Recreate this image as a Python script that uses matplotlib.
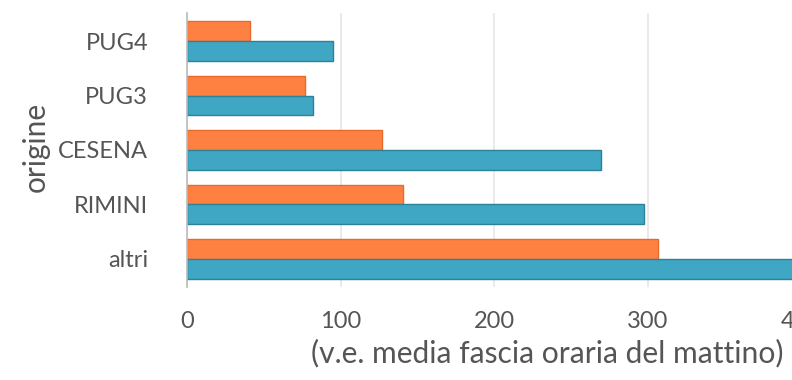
import matplotlib
matplotlib.use("Agg")
import matplotlib.pyplot as plt
import numpy as np

# Morning time-slot average vehicle counts by origin
categories = ["altri", "RIMINI", "CESENA", "PUG3", "PUG4"]
serie_arancio = [307, 141, 127, 77, 41]
serie_blu = [445, 298, 270, 82, 95]
x_ticks = [0, 100, 200, 300, 400]

plt.rcParams["font.family"] = ["Lato", "DejaVu Sans"]
TEXT = "#555555"

fig = plt.figure(figsize=(7.92, 3.80), dpi=100)
ax = fig.add_axes([187 / 792, 93 / 380, 720 / 792, 274 / 380])

y = np.arange(len(categories))
h = 0.36
ax.barh(y + h / 2, serie_arancio, height=h, color="#FF8142", edgecolor="#E8692E",
        linewidth=1.0, zorder=3)
ax.barh(y - h / 2, serie_blu, height=h, color="#3FA6C3", edgecolor="#2B8299",
        linewidth=1.0, zorder=3)

ax.set_xlim(0, 469)
ax.set_ylim(-0.515, 4.515)
ax.set_xticks(x_ticks)
ax.set_yticks(y)
ax.set_yticklabels(categories)

ax.grid(axis="x", color="#e6e6e6", linewidth=1.2, zorder=0)
for s in ["top", "right", "bottom"]:
    ax.spines[s].set_visible(False)
ax.spines["left"].set_color("#bbbbbb")
ax.spines["left"].set_linewidth(1.2)
ax.spines["left"].set_zorder(4)

ax.tick_params(axis="both", length=0, colors=TEXT, labelsize=17)
ax.tick_params(axis="x", pad=17)
ax.tick_params(axis="y", pad=28)

ax.set_xlabel("(v.e. media fascia oraria del mattino)", fontsize=21.6, color=TEXT)
ax.xaxis.set_label_coords(0.5, -0.19)
ax.set_ylabel("origine", fontsize=21.5, color=TEXT)
ax.yaxis.set_label_coords(-0.19, 0.51)

fig.savefig("out.png", dpi=100)
